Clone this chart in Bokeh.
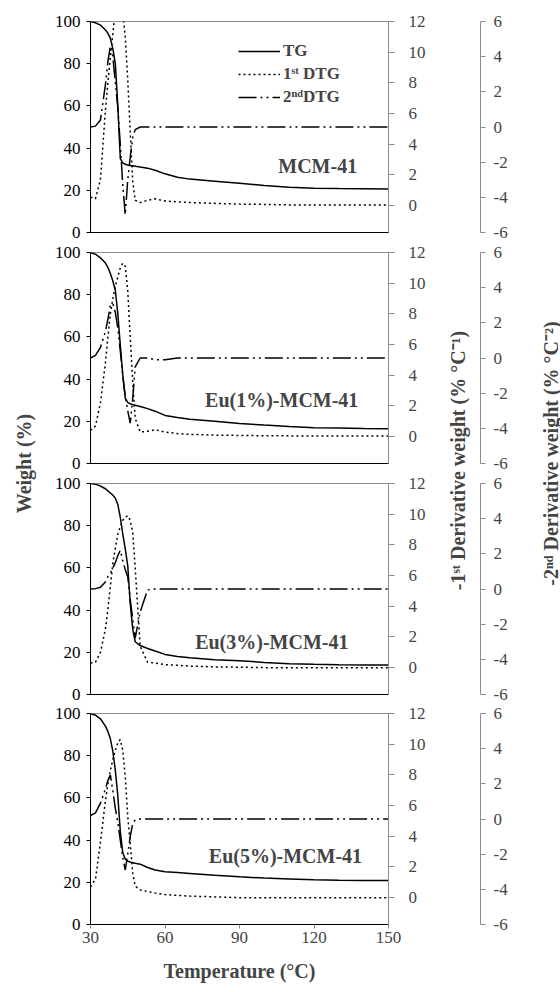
import math
from bokeh.plotting import figure
from bokeh.models import Range1d, LinearAxis, FixedTicker, Label, Legend, LegendItem
from bokeh.layouts import row, column
from bokeh.embed import file_html
from bokeh.resources import INLINE

# ---------------- data ----------------
temperature = [30, 32, 34, 36, 37, 38, 39, 40, 41, 42, 43, 44, 45, 46, 47, 48,
               50, 53, 56, 60, 65, 70, 80, 90, 100, 110, 120, 130, 140, 150]

samples = ["MCM-41", "Eu(1%)-MCM-41", "Eu(3%)-MCM-41", "Eu(5%)-MCM-41"]

tg_mcm41 = [100, 99.4, 98.3, 96, 94.5, 92, 87, 80, 60, 35, 33, 32.3, 32, 31.8, 31.6, 31.4,
            31, 30.5, 29.5, 27.8, 26.2, 25.3, 24.3, 23.3, 22.3, 21.5, 21, 20.8, 20.7, 20.6]
dtg1_mcm41 = [0.55, 0.45, 1.7, 6.2, 8.0, 9.7, 11.2, 12.8, 13.6, 13.6, 12.5, 11, 8.2, 4.8, 1.6, 0.35,
              0.2, 0.35, 0.45, 0.3, 0.25, 0.2, 0.15, 0.1, 0.08, 0.05, 0.05, 0.05, 0.05, 0.05]
dtg2_mcm41 = [0, 0.05, 0.4, 2.4, 3.7, 4.6, 4.0, 2.5, 1.1, -1.0, -3.3, -5.0, -3.0, -1.7, -0.6, -0.15,
              0, 0, 0, 0, 0, 0, 0, 0, 0, 0, 0, 0, 0, 0]

tg_eu1 = [100, 99.2, 97.5, 95, 93, 90, 86.5, 82, 71, 56, 42, 31, 29, 28.3, 27.9, 27.6,
          27, 26, 24.8, 22.8, 21.8, 21, 20, 19, 18.2, 17.5, 17, 16.8, 16.6, 16.5]
dtg1_eu1 = [0.4, 0.7, 2.2, 4.8, 6.5, 8, 9, 9.8, 10.4, 11, 11.3, 11.1, 9.5, 6.5, 3.6, 1.2,
            0.3, 0.35, 0.45, 0.3, 0.2, 0.15, 0.1, 0.08, 0.06, 0.05, 0.05, 0.05, 0.05, 0.05]
dtg2_eu1 = [0, 0.15, 0.6, 1.5, 2.2, 3.0, 3.1, 2.6, 1.7, 0.4, -1.0, -2.2, -3.0, -3.7, -2.3, -0.5,
            0, 0, -0.1, -0.1, 0, 0, 0, 0, 0, 0, 0, 0, 0, 0]

tg_eu3 = [100, 99.7, 98.8, 97.5, 96.5, 95.5, 94.5, 93, 90, 84, 76, 69, 61, 43, 31, 25,
          23.2, 21.8, 20.6, 19, 18, 17.4, 16.5, 16, 15.2, 14.6, 14.3, 14.1, 14, 14]
dtg1_eu3 = [0.3, 0.35, 1.0, 2.5, 3.8, 5.3, 6.8, 7.8, 8.7, 9.2, 9.6, 9.8, 9.9, 9.6, 8.8, 6.5,
            1.4, 0.35, 0.3, 0.2, 0.15, 0.1, 0.05, 0.03, 0, 0, 0, 0, 0, 0]
dtg2_eu3 = [0, 0.02, 0.1, 0.4, 0.7, 0.9, 1.2, 1.5, 1.9, 2.2, 1.6, 1.1, 0.7, -0.6, -1.7, -2.8,
            -1.3, -0.05, 0, 0, 0, 0, 0, 0, 0, 0, 0, 0, 0, 0]

tg_eu5 = [100, 99.2, 97.5, 94, 91.5, 88, 82, 73, 61, 44, 34, 31, 30, 29.6, 29.3, 29,
          28.6, 27, 25.8, 25, 24.6, 24.2, 23.3, 22.6, 22, 21.6, 21.2, 21, 20.9, 20.8]
dtg1_eu5 = [0.7, 1.2, 3.6, 6.3, 7.4, 8.3, 9.0, 9.6, 10.1, 10.3, 9.6, 7.9, 5.3, 3.5, 1.6, 0.75,
            0.5, 0.4, 0.3, 0.2, 0.15, 0.1, 0.05, 0, 0, 0, 0, 0, 0, 0]
dtg2_eu5 = [0.2, 0.35, 0.9, 1.7, 2.2, 2.5, 1.6, 0.6, -0.2, -1.2, -2.2, -2.9, -2.0, -1.0, -0.25, -0.05,
            0, 0, 0, 0, 0, 0, 0, 0, 0, 0, 0, 0, 0, 0]

tg_series = [tg_mcm41, tg_eu1, tg_eu3, tg_eu5]
dtg1_series = [dtg1_mcm41, dtg1_eu1, dtg1_eu3, dtg1_eu5]
dtg2_series = [dtg2_mcm41, dtg2_eu1, dtg2_eu3, dtg2_eu5]

temp_ticks = [30, 60, 90, 120, 150]
weight_ticks = [0, 20, 40, 60, 80, 100]
dtg1_ticks = [0, 2, 4, 6, 8, 10, 12]
dtg2_ticks = [-6, -4, -2, 0, 2, 4, 6]
dtg2_tick_labels = ["-6", "-4", "-2", "0", "2", "4", "6"]

legend_labels = ["TG", "1\u02e2\u1d57 DTG", "2\u207f\u1d48DTG"]

# ---------------- style ----------------
FONT = "Liberation Serif"
GREY = "#8c8c8c"
TICK_SIZE = "17px"
TITLE_SIZE = "20px"
FRAME_H = 211
TOPS = [21, 10, 10, 9]
BOTTOMS = [10, 10, 10, 68]
TOTAL_H = sum(TOPS) + sum(BOTTOMS) + 4 * FRAME_H

# label positions (temperature, weight) inside each panel
label_pos = [(121.5, 31.5), (107, 30.3), (103, 25.1), (108.5, 32.7)]

x_range = Range1d(30, 150)

panels = []
axes_figs = []
for i in range(4):
    h = TOPS[i] + FRAME_H + BOTTOMS[i]
    d2_range = Range1d(-6, 6)
    p = figure(width=390, height=h, x_range=x_range, y_range=Range1d(0, 100),
               min_border_left=52, min_border_right=40,
               min_border_top=TOPS[i], min_border_bottom=BOTTOMS[i],
               toolbar_location=None, output_backend="svg",
               outline_line_color=GREY, outline_line_width=1)
    p.grid.visible = False
    p.extra_y_ranges = {"d1": Range1d(-1.75, 12), "d2": d2_range}

    # left axis (weight)
    ya = p.yaxis[0]
    ya.ticker = FixedTicker(ticks=weight_ticks)
    ya.axis_line_color = "black"
    ya.major_tick_line_color = "black"
    ya.major_tick_out = 4
    ya.major_tick_in = 0
    ya.minor_tick_line_color = None
    ya.major_label_standoff = 6
    ya.major_label_text_font = FONT
    ya.major_label_text_font_size = TICK_SIZE
    ya.major_label_text_color = "black"

    # bottom axis
    xa = p.xaxis[0]
    xa.axis_line_color = "black"
    xa.minor_tick_line_color = None
    if i < 3:
        xa.ticker = FixedTicker(ticks=[])
        xa.major_tick_out = 0
        xa.major_tick_in = 0
    else:
        xa.ticker = FixedTicker(ticks=temp_ticks)
        xa.major_tick_line_color = GREY
        xa.major_tick_out = 4
        xa.major_tick_in = 0
        xa.major_label_standoff = 3
        xa.major_label_text_font = FONT
        xa.major_label_text_font_size = TICK_SIZE
        xa.axis_label = "Temperature (\u00b0C)"
        xa.axis_label_text_font = FONT
        xa.axis_label_text_font_size = TITLE_SIZE
        xa.axis_label_text_font_style = "bold"
        xa.axis_label_standoff = 14

    # right axis (1st derivative)
    ra = LinearAxis(y_range_name="d1", ticker=FixedTicker(ticks=dtg1_ticks))
    ra.axis_line_color = GREY
    ra.major_tick_line_color = GREY
    ra.major_tick_out = 6
    ra.major_tick_in = 0
    ra.minor_tick_line_color = None
    ra.major_label_standoff = 14
    ra.major_label_text_font = FONT
    ra.major_label_text_font_size = TICK_SIZE
    p.add_layout(ra, "right")

    r_tg = p.line(temperature, tg_series[i], line_color="black", line_width=1.5)
    r_d1 = p.line(temperature, dtg1_series[i], y_range_name="d1", line_color="black",
                  line_width=1.5, line_dash="2 3")
    r_d2 = p.line(temperature, dtg2_series[i], y_range_name="d2", line_color="black",
                  line_width=1.5, line_dash="18 4 2 4 2 4")

    lx, ly = label_pos[i]
    p.add_layout(Label(x=lx, y=ly, text=samples[i], text_font=FONT, text_font_size=TITLE_SIZE,
                       text_font_style="bold", text_align="center", text_baseline="middle"))

    if i == 0:
        legend = Legend(items=[LegendItem(label=legend_labels[0], renderers=[r_tg]),
                               LegendItem(label=legend_labels[1], renderers=[r_d1]),
                               LegendItem(label=legend_labels[2], renderers=[r_d2])],
                        location=(148, 125), glyph_width=42, glyph_height=20,
                        label_height=20, label_standoff=3, spacing=3, padding=0, margin=0,
                        background_fill_alpha=0, border_line_color=None,
                        label_text_font=FONT, label_text_font_size="17px",
                        label_text_font_style="bold")
        p.add_layout(legend)
    panels.append(p)

    # separate axis for 2nd derivative
    a = figure(width=40, height=h, x_range=Range1d(0, 1), y_range=d2_range,
               x_axis_location=None, y_axis_location="right",
               min_border_left=0, min_border_right=32,
               min_border_top=TOPS[i], min_border_bottom=BOTTOMS[i],
               toolbar_location=None, output_backend="svg", outline_line_color=None)
    a.grid.visible = False
    aa = a.yaxis[0]
    aa.ticker = FixedTicker(ticks=dtg2_ticks)
    aa.major_label_overrides = dict(zip(dtg2_ticks, dtg2_tick_labels))
    aa.axis_line_color = GREY
    aa.major_tick_line_color = GREY
    aa.major_tick_out = 5
    aa.major_tick_in = 0
    aa.minor_tick_line_color = None
    aa.major_label_standoff = 8
    aa.major_label_text_font = FONT
    aa.major_label_text_font_size = TICK_SIZE
    axes_figs.append(a)


def title_fig(width, text, xpos, ycenter_from_top):
    f = figure(width=width, height=TOTAL_H, x_range=Range1d(0, width), y_range=Range1d(0, TOTAL_H),
               toolbar_location=None, output_backend="svg", min_border=0,
               outline_line_color=None, x_axis_location=None, y_axis_location=None)
    f.grid.visible = False
    f.add_layout(Label(x=xpos, y=TOTAL_H - ycenter_from_top, text=text, angle=math.pi / 2,
                       text_font=FONT, text_font_size=TITLE_SIZE, text_font_style="bold",
                       text_align="center", text_baseline="middle"))
    return f


t_left = title_fig(38, "Weight (%)", 23, 463)
t_mid = title_fig(44, "-1\u02e2\u1d57 Derivative weight (% \u00b0C\u207b\u00b9)", 29, 460)
t_right = title_fig(48, "-2\u207f\u1d48 Derivative weight (% \u00b0C\u207b\u00b2)", 38, 453)

layout = row(t_left, column(*panels), t_mid, column(*axes_figs), t_right)

open("out.html", "w").write(file_html(layout, INLINE))
